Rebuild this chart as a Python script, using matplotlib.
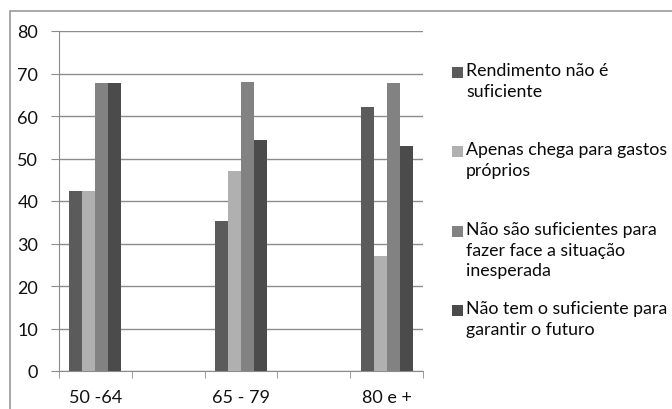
import numpy as np
import matplotlib
matplotlib.use("Agg")
import matplotlib.pyplot as plt
from matplotlib.patches import Rectangle

plt.rcParams['font.family'] = ['Lato', 'DejaVu Sans']

# dados (colunas vazias entre os grupos, como no original)
categories = ["50 -64", "", "65 - 79", "", "80 e +"]
series_names = [
    "Rendimento não é\nsuficiente",
    "Apenas chega para gastos\npróprios",
    "Não são suficientes para\nfazer face a situação\ninesperada",
    "Não tem o suficiente para\ngarantir o futuro",
]
rendimento = [42.3, np.nan, 35.2, np.nan, 62.2]
gastos = [42.3, np.nan, 47.1, np.nan, 27.0]
inesperada = [67.7, np.nan, 68.0, np.nan, 67.8]
futuro = [67.7, np.nan, 54.3, np.nan, 52.9]
values = [rendimento, gastos, inesperada, futuro]
colors = ["#5b5b5b", "#b0b0b0", "#828282", "#4b4b4b"]

W, H = 672, 410
fig = plt.figure(figsize=(W / 100, H / 100), dpi=100)

# moldura do grafico
fig.patches.append(Rectangle((10 / W, -0.1), 1.2, (H - 12) / H + 0.1,
                             transform=fig.transFigure, fill=False,
                             edgecolor="#9a9a9a", linewidth=1.2))

ax = fig.add_axes([59 / W, 38 / H, (423 - 59) / W, (372 - 32) / H])

x = np.arange(len(categories))
bar_w = 0.178
for i, (vals, col) in enumerate(zip(values, colors)):
    ax.bar(x + (i - 1.5) * bar_w, vals, bar_w, color=col, zorder=3)

ax.set_xlim(-0.5, len(categories) - 0.5)
ax.set_ylim(0, 80)
ax.set_yticks(np.arange(0, 81, 10))
ax.yaxis.grid(True, color="#8c8c8c", linewidth=1, zorder=0)

ax.set_xticks(x)
ax.set_xticklabels(categories, fontsize=13, color="#111111")
ax.set_xticks(np.arange(-0.5, len(categories)), minor=True)
ax.tick_params(axis="x", which="major", length=0, pad=13)
ax.tick_params(axis="x", which="minor", length=5, color="#8c8c8c", direction="out")
ax.tick_params(axis="y", length=6, color="#8c8c8c", labelsize=13,
               labelcolor="#111111", pad=9)

for s in ["top", "right"]:
    ax.spines[s].set_visible(False)
for s in ["left", "bottom"]:
    ax.spines[s].set_color("#8c8c8c")

# legenda desenhada a mao (entradas igualmente espacadas)
for i, (name, col) in enumerate(zip(series_names, colors)):
    ytop = 74 + 79.3 * i
    fig.patches.append(Rectangle((452 / W, 1 - (ytop + 5) / H), 11 / W, 11 / H,
                                 transform=fig.transFigure, facecolor=col,
                                 edgecolor="none"))
    fig.text(466 / W, 1 - (ytop - 11) / H, name, fontsize=12.8, va="top",
             ha="left", linespacing=1.38, color="#0a0a0a")

fig.savefig("out.png", dpi=100)
